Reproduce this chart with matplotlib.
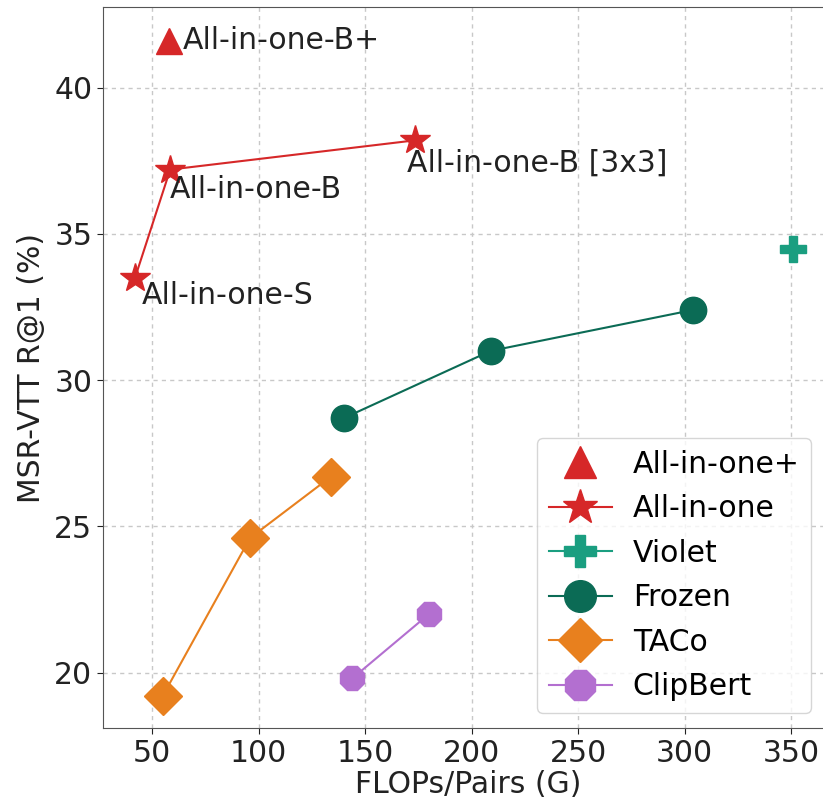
import matplotlib.pyplot as plt

# === MARK: Data
aio_plus_x = [58]
aio_plus_y = [41.6]

aio_x = [42, 58.5, 173.5]
aio_y = [33.5, 37.2, 38.2]
aio_names = ['All-in-one-S', 'All-in-one-B', 'All-in-one-B [3x3]']

violet_x = [351]
violet_y = [34.5]

frozen_x = [140, 209, 304]
frozen_y = [28.7, 31.0, 32.4]

taco_x = [55, 96, 134]
taco_y = [19.2, 24.6, 26.7]

clipbert_x = [144, 180]
clipbert_y = [19.8, 22.0]

# === MARK: Figure
plt.rcParams['font.family'] = 'DejaVu Sans'
fig = plt.figure(figsize=(8.23, 8.09), dpi=100)
ax = fig.add_axes([0.125, 0.1, 0.888, 0.891])

red = '#d62728'
ms = 19

ax.plot(aio_plus_x, aio_plus_y, linestyle='none', marker='^', color=red,
        markersize=ms, label='All-in-one+')
ax.plot(aio_x, aio_y, marker='*', color=red, markersize=ms + 3, linewidth=1.5,
        label='All-in-one')
ax.plot(violet_x, violet_y, marker='P', color='#1a9e80', markersize=ms,
        linewidth=1.5, label='Violet')
ax.plot(frozen_x, frozen_y, marker='o', color='#0b6b55', markersize=ms,
        linewidth=1.5, label='Frozen')
ax.plot(taco_x, taco_y, marker='D', color='#e8801e', markersize=ms,
        linewidth=1.5, label='TACo')
ax.plot(clipbert_x, clipbert_y, marker='8', color='#b36fd0', markersize=ms,
        linewidth=1.5, label='ClipBert')

# point labels
fs = 21.5
ax.annotate('All-in-one-B+', (aio_plus_x[0], aio_plus_y[0]), xytext=(10, 0),
            textcoords='offset points', ha='left', va='center', fontsize=fs, color='#222222')
label_offsets = [(5, -2), (0, -4), (-6, -6)]
for x, y, name, off in zip(aio_x, aio_y, aio_names, label_offsets):
    ax.annotate(name, (x, y), xytext=off, textcoords='offset points',
                ha='left', va='top', fontsize=fs, color='#222222')

ax.set_xlim(26.9, 370)
ax.set_ylim(18.1, 42.75)
ax.set_xticks([50, 100, 150, 200, 250, 300, 350])
ax.set_yticks([20, 25, 30, 35, 40])
ax.tick_params(labelsize=fs, colors='#222222', length=4)
ax.set_xlabel('FLOPs/Pairs (G)', fontsize=fs, color='#222222', labelpad=2)
ax.set_ylabel('MSR-VTT R@1 (%)', fontsize=fs, color='#222222', labelpad=6)
ax.grid(True, linestyle=(0, (3, 3)), color='#c8c8c8', linewidth=1)
ax.set_axisbelow(True)
for s in ax.spines.values():
    s.set_color('#555555')

ax.legend(loc='lower right', fontsize=fs, markerscale=1.2, labelspacing=0.52,
          handlelength=2.1, handletextpad=0.7, borderpad=0.4,
          bbox_to_anchor=(0.99, 0.0), borderaxespad=0.5)

plt.savefig('out.png', dpi=100)
